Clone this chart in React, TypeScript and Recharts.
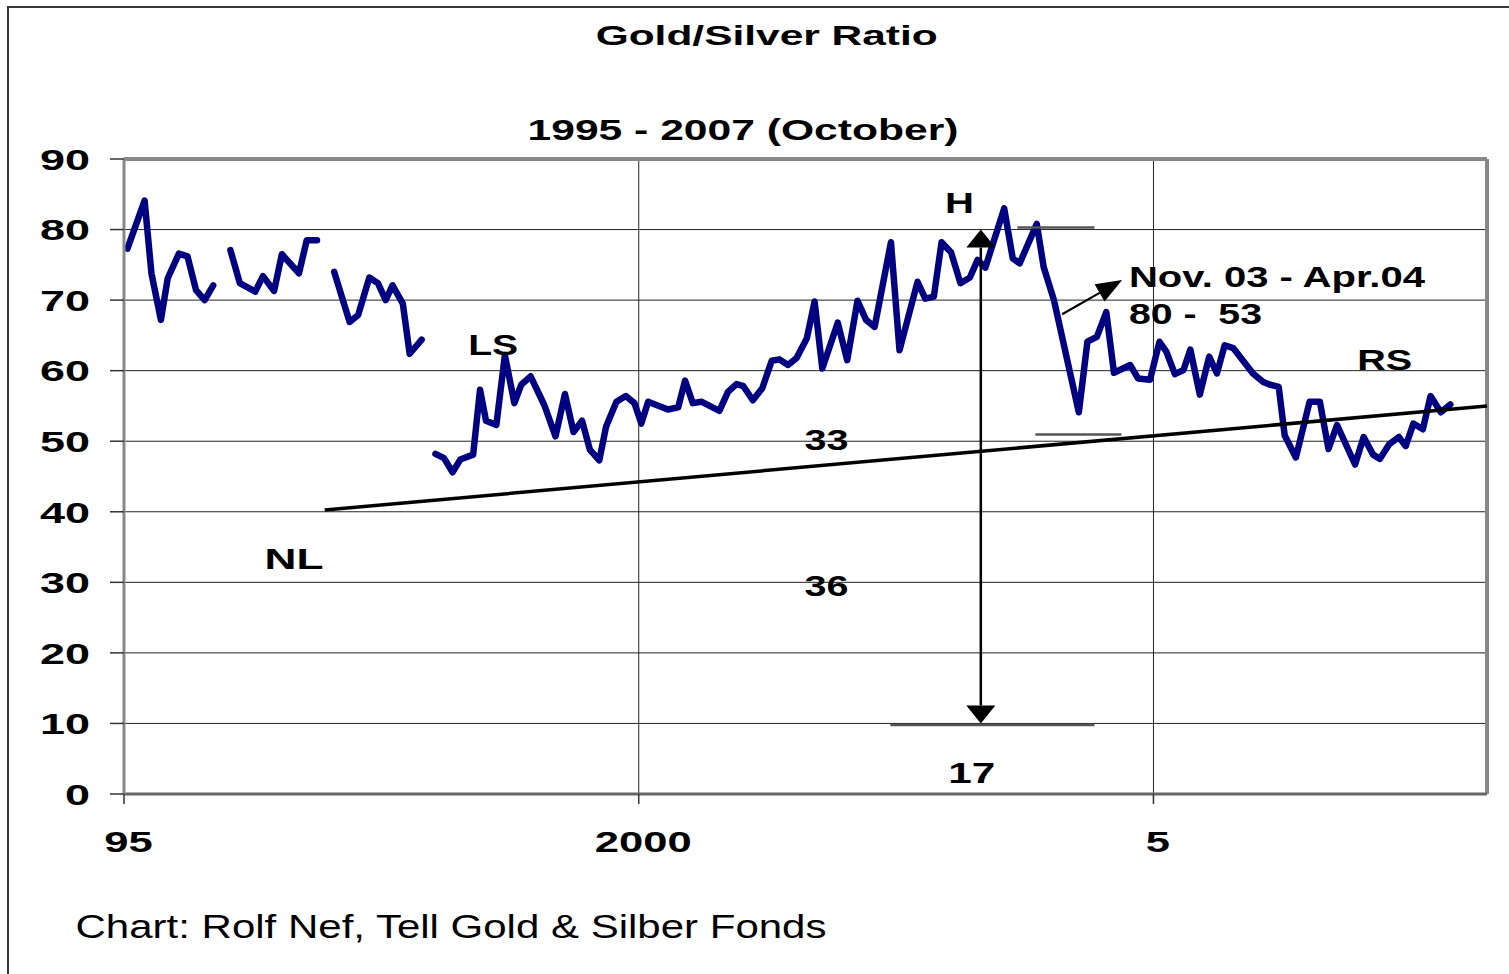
import React from 'react';
import { LineChart, Line, XAxis, YAxis, CartesianGrid, ReferenceLine, ReferenceDot } from 'recharts';

const FONT = '"Liberation Sans", Arial, Helvetica, sans-serif';

// ---- axes ----
const X_MIN = 1995;
const X_MAX = 2008.24;
const yTicks = [0, 10, 20, 30, 40, 50, 60, 70, 80, 90];
const xTicks = [1995, 2000, 2005];
const xTickLabels = ['95', '2000', '5'];

// ---- data: months since Jan 1995, gold/silver ratio ----
const seg1Months = [0.4, 2.4, 3.2, 4.3, 5.1, 6.4, 7.4, 8.4, 9.4, 10.4];
const seg1Ratio = [77.3, 84.1, 73.8, 67.2, 73.1, 76.6, 76.2, 71.4, 70.0, 72.1];

const seg2Months = [12.4, 13.5, 15.3, 16.2, 17.5, 18.4, 20.4, 21.3, 22.5];
const seg2Ratio = [77.1, 72.4, 71.2, 73.4, 71.3, 76.5, 73.8, 78.5, 78.5];

const seg3Months = [24.5, 26.3, 27.3, 28.6, 29.6, 30.5, 31.3, 32.5, 33.3, 34.7];
const seg3Ratio = [74.0, 66.9, 67.9, 73.2, 72.4, 70.0, 72.1, 69.5, 62.4, 64.4];

const seg4Months = [
  36.3, 37.3, 38.3, 39.2, 40.7, 41.5, 42.2, 43.4, 44.4, 45.5, 46.3, 47.4, 49.0, 50.3, 51.4,
  52.4, 53.4, 54.3, 55.4, 56.2, 57.4, 58.5, 59.5, 60.3, 61.1, 63.4, 64.6, 65.4, 66.3, 67.3,
  69.4, 70.4, 71.4, 72.2, 73.3, 74.4, 75.5, 76.4, 77.4, 78.4, 79.6, 80.5, 81.4, 83.2, 84.3,
  85.5, 86.5, 87.5, 89.4, 90.4, 92.5, 93.4, 94.4, 95.3, 96.4, 97.5, 98.6, 99.5, 100.4, 102.6,
  103.6, 104.4, 106.4, 107.2, 108.4, 111.3, 112.3, 113.4, 114.5, 115.4, 117.3, 118.2, 119.6, 120.7, 121.5,
  122.5, 123.5, 124.3, 125.4, 126.5, 127.4, 128.3, 129.3, 131.6, 132.8, 133.6, 134.6, 135.3, 136.6, 138.2,
  139.4, 140.4, 141.4, 143.5, 144.5, 145.6, 146.4, 147.5, 148.6, 149.4, 150.3, 151.4, 152.3, 153.5, 154.6,
];
const seg4Ratio = [
  48.2, 47.6, 45.6, 47.4, 48.1, 57.3, 52.9, 52.3, 62.2, 55.4, 58.0, 59.2, 55.1, 50.7, 56.7,
  51.3, 52.9, 48.8, 47.3, 52.1, 55.6, 56.4, 55.4, 52.5, 55.6, 54.5, 54.8, 58.6, 55.4, 55.6,
  54.3, 57.0, 58.1, 57.8, 55.8, 57.5, 61.4, 61.6, 60.8, 61.8, 64.6, 69.8, 60.3, 66.8, 61.5,
  69.9, 67.2, 66.2, 78.2, 62.9, 72.6, 70.2, 70.5, 78.2, 76.8, 72.4, 73.2, 75.7, 74.6, 83.0,
  75.9, 75.2, 80.8, 74.7, 70.0, 54.1, 64.1, 64.8, 68.3, 59.7, 60.8, 58.9, 58.7, 64.1, 62.7,
  59.5, 60.1, 63.0, 56.6, 62.0, 59.6, 63.6, 63.2, 59.6, 58.4, 58.0, 57.7, 50.8, 47.7, 55.6,
  55.6, 48.9, 52.3, 46.7, 50.6, 48.1, 47.5, 49.6, 50.6, 49.3, 52.5, 51.7, 56.4, 54.1, 55.2,
];

// ---- annotations (data coordinates) ----
const necklineStart = { x: 1996.95, y: 40.25 };
const necklineEnd = { x: X_MAX, y: 55.0 };
const targetArrowX = 2003.323;
const targetArrowTop = 80;
const targetArrowBottom = 10;
const levelLines = [
  { x1: 2003.678, x2: 2004.427, y: 80.3 },
  { x1: 2003.853, x2: 2004.689, y: 50.95 },
  { x1: 2002.444, x2: 2004.427, y: 9.78 },
];
const pointerStart = { x: 2004.113, y: 68.0 };
const pointerEnd = { x: 2004.696, y: 72.85 };

const labels = [
  { text: 'H', x: 2003.115, y: 82.35, anchor: 'middle', size: 29, len: 29 },
  { text: 'LS', x: 1998.586, y: 62.22, anchor: 'middle', size: 29, len: 50 },
  { text: 'RS', x: 2007.247, y: 60.09, anchor: 'middle', size: 29, len: 55 },
  { text: 'NL', x: 1996.652, y: 31.96, anchor: 'middle', size: 29, len: 59 },
  { text: '33', x: 2001.825, y: 48.76, anchor: 'middle', size: 29, len: 44 },
  { text: '36', x: 2001.825, y: 28.06, anchor: 'middle', size: 29, len: 44 },
  { text: '17', x: 2003.234, y: 1.6, anchor: 'middle', size: 29, len: 47 },
  { text: 'Nov. 03 - Apr.04', x: 2004.762, y: 71.9, anchor: 'start', size: 30, len: 296 },
  { text: '80 -\u00a0\u00a053', x: 2004.762, y: 66.57, anchor: 'start', size: 30, len: 133 },
];

const monthToYear = (m: number) => 1995 + m / 12;

const segments: [number[], number[]][] = [
  [seg1Months, seg1Ratio],
  [seg2Months, seg2Ratio],
  [seg3Months, seg3Ratio],
  [seg4Months, seg4Ratio],
];

const data: { x: number; ratio: number | null }[] = [];
segments.forEach(([ms, vs], si) => {
  ms.forEach((m, i) => data.push({ x: monthToYear(m), ratio: vs[i] }));
  if (si < segments.length - 1) data.push({ x: monthToYear(ms[ms.length - 1] + 0.8), ratio: null });
});

const YTick = (props: any) => {
  const { x, y, payload } = props;
  const s = String(payload.value);
  return (
    <text x={x} y={y + 10.8} textAnchor="end" fontFamily={FONT} fontWeight="bold" fontSize={30}
      fill="#000" textLength={s.length * 25} lengthAdjust="spacingAndGlyphs">{s}</text>
  );
};

const XTick = (props: any) => {
  const { x, y, payload } = props;
  const idx = xTicks.indexOf(payload.value);
  const s = idx >= 0 ? xTickLabels[idx] : String(payload.value);
  return (
    <text x={x + 4.5} y={y + 46} textAnchor="middle" fontFamily={FONT} fontWeight="bold" fontSize={30}
      fill="#000" textLength={s.length * 24.2} lengthAdjust="spacingAndGlyphs">{s}</text>
  );
};

const DoubleArrow = (p: any) => {
  const { x1, y1, x2, y2 } = p;
  const top = Math.min(y1, y2);
  const bot = Math.max(y1, y2);
  const hw = 14.5;
  const hl = 18;
  return (
    <g>
      <line x1={x1} y1={top + hl} x2={x2} y2={bot - hl} stroke="#000" strokeWidth={2.5} />
      <polygon points={`${x1},${top} ${x1 - hw},${top + hl} ${x1 + hw},${top + hl}`} fill="#000" />
      <polygon points={`${x2},${bot} ${x2 - hw},${bot - hl} ${x2 + hw},${bot - hl}`} fill="#000" />
    </g>
  );
};

const PointerArrow = (p: any) => {
  const { x1, y1, x2, y2 } = p;
  const dx = x2 - x1;
  const dy = y2 - y1;
  const L = Math.sqrt(dx * dx + dy * dy) || 1;
  const ux = dx / L;
  const uy = dy / L;
  const hl = 26;
  const hw = 10;
  const bx = x2 - ux * hl;
  const by = y2 - uy * hl;
  return (
    <g>
      <line x1={x1} y1={y1} x2={bx} y2={by} stroke="#000" strokeWidth={2.2} />
      <polygon
        points={`${x2},${y2} ${bx - uy * hw},${by + ux * hw} ${bx + uy * hw},${by - ux * hw}`}
        fill="#000"
      />
    </g>
  );
};

const makeLabel = (a: any) => (p: any) => (
  <text x={p.cx} y={p.cy} textAnchor={a.anchor} fontFamily={FONT} fontWeight="bold" fontSize={a.size}
    fill="#000" textLength={a.len} lengthAdjust="spacingAndGlyphs">{a.text}</text>
);

export default function App() {
  return (
    <div style={{ position: 'absolute', left: 0, top: 0, width: 1509, height: 974, overflow: 'hidden', background: '#fff' }}>
      <div style={{ position: 'absolute', left: 7, top: 6, width: 1700, height: 1100, borderLeft: '2px solid #3a3a3a', borderTop: '2px solid #3a3a3a' }} />
      <svg width={1509} height={974} style={{ position: 'absolute', left: 0, top: 0 }}>
        <text x={766.7} y={45} textAnchor="middle" fontFamily={FONT} fontWeight="bold" fontSize={28}
          textLength={342} lengthAdjust="spacingAndGlyphs" fill="#000">Gold/Silver Ratio</text>
        <text x={743} y={140} textAnchor="middle" fontFamily={FONT} fontWeight="bold" fontSize={30}
          textLength={431} lengthAdjust="spacingAndGlyphs" fill="#000">1995 - 2007 (October)</text>
        <text x={75.5} y={937.7} textAnchor="start" fontFamily={FONT} fontSize={34}
          textLength={751} lengthAdjust="spacingAndGlyphs" fill="#000">Chart: Rolf Nef, Tell Gold &amp; Silber Fonds</text>
      </svg>
      <div style={{ position: 'absolute', left: 0, top: 0 }}>
        <LineChart width={1509} height={974} data={data} margin={{ top: 159, right: 22, bottom: 120, left: 0 }}>
          <CartesianGrid stroke="#222" strokeWidth={1} />
          <XAxis type="number" dataKey="x" domain={[X_MIN, X_MAX]} ticks={xTicks} height={60}
            tickSize={10} tickMargin={2} interval={0} allowDataOverflow
            axisLine={{ stroke: '#666', strokeWidth: 3 }} tickLine={{ stroke: '#333', strokeWidth: 1.5 }} tick={XTick} />
          <YAxis type="number" domain={[0, 90]} ticks={yTicks} width={124} tickSize={14} tickMargin={20}
            interval={0} allowDataOverflow
            axisLine={{ stroke: '#888', strokeWidth: 3 }} tickLine={{ stroke: '#333', strokeWidth: 1.5 }} tick={YTick} />
          <ReferenceLine y={90} stroke="#888" strokeWidth={4} ifOverflow="visible" />
          <ReferenceLine x={X_MAX} stroke="#888" strokeWidth={4} ifOverflow="visible" />
          <Line type="linear" dataKey="ratio" stroke="#000080" strokeWidth={6.5} dot={false}
            connectNulls={false} isAnimationActive={false} strokeLinejoin="round" strokeLinecap="round" />
          <ReferenceLine segment={[necklineStart, necklineEnd]} stroke="#000" strokeWidth={3.5} ifOverflow="visible" />
          {levelLines.map((l, i) => (
            <ReferenceLine key={'lv' + i} segment={[{ x: l.x1, y: l.y }, { x: l.x2, y: l.y }]}
              stroke="#555" strokeWidth={2.5} ifOverflow="visible" />
          ))}
          <ReferenceLine segment={[{ x: targetArrowX, y: targetArrowTop }, { x: targetArrowX, y: targetArrowBottom }]}
            ifOverflow="visible" shape={DoubleArrow} />
          <ReferenceLine segment={[pointerStart, pointerEnd]} ifOverflow="visible" shape={PointerArrow} />
          {labels.map((a, i) => (
            <ReferenceDot key={'lb' + i} x={a.x} y={a.y} r={1} ifOverflow="visible" shape={makeLabel(a)} />
          ))}
        </LineChart>
      </div>
    </div>
  );
}
